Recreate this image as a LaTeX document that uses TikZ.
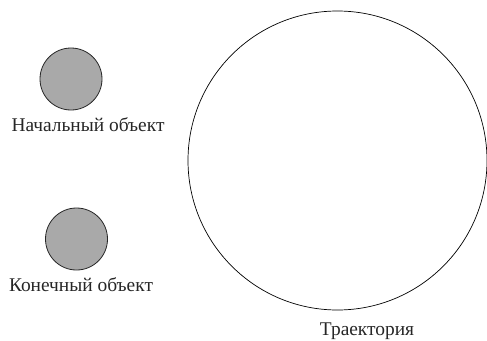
\documentclass[tikz,border=0pt]{standalone}
\usepackage{fontspec}
\setmainfont{Liberation Serif}
\usetikzlibrary{positioning}

\definecolor{ballgray}{HTML}{A9A9A9}

\begin{document}
\begin{tikzpicture}[x=1pt,y=-1pt,
    ball/.style={circle,draw=black!85,fill=ballgray,line width=0.8pt,minimum size=62pt,inner sep=0pt},
    orbit/.style={circle,draw=black,line width=0.7pt,minimum size=299pt,inner sep=0pt},
    caption/.style={anchor=base,inner sep=0pt,text=black!85,font=\fontsize{19.4}{23}\selectfont}]
    \useasboundingbox (0,0) rectangle (487,340);

    \node[ball] (start) at (71,79) {};
    \node[caption] (startlabel) at (88,131.7) {Начальный объект};

    \node[ball] (finish) at (76.5,239) {};
    \node[caption] (finishlabel) at (81,291.7) {Конечный объект};

    \node[orbit] (traj) at (337.5,160.5) {};
    \node[caption] (trajlabel) at (367,335) {Траектория};
\end{tikzpicture}
\end{document}
